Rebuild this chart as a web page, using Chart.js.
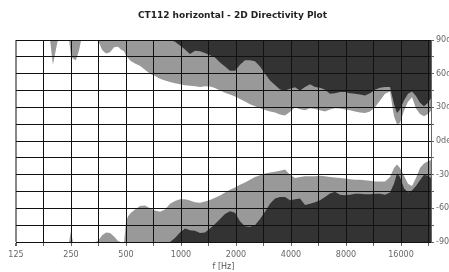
<!DOCTYPE html>
<html>
<head>
<meta charset="utf-8">
<script src="https://cdn.jsdelivr.net/npm/chart.js@4"></script>
<style>
html, body { margin: 0; padding: 0; background: #fff; }
</style>
</head>
<body>
<canvas id="myChart" width="449" height="272"></canvas>
<script>
// frequency points (Hz) the contour edges were read at
const freqs = [125, 135, 145, 157, 169, 182, 192, 199, 207, 212, 223, 235, 244, 250, 256, 266, 277, 284, 298, 318,
    338, 351, 370, 389, 409, 430, 452, 469, 488, 500, 513, 533, 560, 596, 635, 677, 721, 768, 817, 871,
    927, 987, 1052, 1120, 1193, 1271, 1353, 1441, 1535, 1635, 1741, 1854, 1975, 2103, 2240, 2386, 2541, 2707, 2883, 3070,
    3270, 3482, 3709, 3950, 4207, 4480, 4772, 5082, 5413, 5765, 6140, 6539, 6964, 7417, 7900, 8414, 8961, 9544, 10165, 10826,
    11530, 12280, 13079, 13929, 14648, 15213, 15800, 16614, 17473, 18379, 19327, 20327, 21378, 22484, 23350];

// white / grey edge, upper side (deg)
const upperInner = [90, 90, 90, 90, 90, 90, 90, 68, 82, 90, 90, 90, 90, 76, 73.5, 72, 81, 90, 90, 90,
    90, 90, 81, 78, 79, 83.5, 84, 81.5, 80, 76, 74, 71, 69, 67, 63.5, 60, 58, 55.5, 54, 52.5,
    51.5, 50.5, 49.6, 49.3, 48.7, 48.1, 48.7, 48.5, 47.2, 45.1, 42.9, 41.4, 39.6, 37.4, 35.3, 32.8, 31, 29.2, 27.7, 26.2,
    25.3, 23.7, 22.8, 26, 29.8, 28.3, 27.4, 29.2, 28.6, 27.4, 26.2, 28, 29.2, 29, 28, 27.4, 26.2, 25.3, 25, 26.2,
    30, 36, 42, 44, 22, 15, 16, 27, 35, 39, 29, 24, 22, 24, 27];

// grey / dark edge, upper side
const upperOuter = [90, 90, 90, 90, 90, 90, 90, 90, 90, 90, 90, 90, 90, 90, 90, 90, 90, 90, 90, 90,
    90, 90, 90, 90, 90, 90, 90, 90, 90, 90, 90, 90, 90, 90, 90, 90, 90, 90, 90, 90,
    88.5, 85, 81.5, 77.5, 80.5, 80, 78.5, 76.5, 74.5, 70, 66.3, 62.5, 62.5, 68, 72, 72, 71, 66.3, 60, 54,
    50, 46, 45, 46.5, 48, 45.1, 48.1, 50.5, 48.1, 47.4, 45.6, 42, 42.6, 43.6, 43.6, 42.6, 42, 41.4, 40.5, 42.6,
    45.6, 47.4, 48.1, 48.1, 33, 25, 28, 36, 42, 44, 40, 34, 31, 34, 38];

// white / grey edge, lower side
const lowerInner = [-90, -90, -90, -90, -90, -90, -90, -90, -90, -90, -90, -90, -90, -80, -90, -90, -90, -90, -90, -90,
    -90, -89, -84, -81.5, -82, -85, -89, -90, -90, -72, -67, -64, -61, -58, -57.5, -60, -62, -63, -61, -56,
    -53.5, -52, -52, -53, -54.5, -55, -54, -52.5, -50.5, -48.5, -46, -43.5, -41.5, -39, -37, -34.5, -32, -30.5, -29, -28,
    -27.5, -26.5, -25.5, -30, -33, -32, -31.5, -31.5, -31.5, -31, -31.5, -32, -32.5, -33, -33.5, -34, -34.5, -34.5, -35, -35.5,
    -36, -36, -36, -32, -24, -21, -24, -31, -38, -40, -33, -24, -20, -18, -17];

// grey / dark edge, lower side
const lowerOuter = [-90, -90, -90, -90, -90, -90, -90, -90, -90, -90, -90, -90, -90, -90, -90, -90, -90, -90, -90, -90,
    -90, -90, -90, -90, -90, -90, -90, -90, -90, -90, -90, -90, -90, -90, -90, -90, -90, -90, -90, -90,
    -86.5, -81.5, -78, -79.5, -80, -82, -81.5, -78, -74, -69.5, -65, -62.5, -64, -71.5, -76, -76.5, -75, -69.5, -63, -56,
    -51.3, -50, -50, -52.8, -52, -51.3, -57, -56, -54.5, -52.8, -50, -46.8, -45.2, -48, -48.3, -48, -47, -47, -47.5, -47.5,
    -47, -47, -48, -46, -38, -29, -32, -42, -46, -44, -40, -35, -30, -31, -33];

const xTicks = [125, 177, 250, 354, 500, 707, 1000, 1414, 2000, 2828, 4000, 5657, 8000, 11314, 16000, 22627];
const xLabels = [125, 250, 500, 1000, 2000, 4000, 8000, 16000];
const yTicks = [-90, -75, -60, -45, -30, -15, 0, 15, 30, 45, 60, 75, 90];
const yLabels = [-90, -60, -30, 0, 30, 60, 90];

const pts = (vals) => freqs.map((f, i) => ({ x: f, y: vals[i] }));
const font = "'DejaVu Sans', sans-serif";

// everything outside the grey band is dark
const darkArea = {
    id: "darkArea",
    beforeDatasetsDraw(chart) {
        const { ctx, chartArea: a } = chart;
        ctx.save();
        ctx.fillStyle = "#333333";
        ctx.fillRect(a.left, a.top, a.right - a.left, a.bottom - a.top);
        ctx.restore();
    },
};

const edge = { borderWidth: 0, borderColor: "rgba(0,0,0,0)", pointRadius: 0, tension: 0 };

const ctx = document.getElementById("myChart").getContext("2d");
const myChart = new Chart(ctx, {
    type: "line",
    data: {
        datasets: [
            { ...edge, data: pts(upperInner), fill: "+1", backgroundColor: "#ffffff" },
            { ...edge, data: pts(lowerInner), fill: false },
            { ...edge, data: pts(upperOuter), fill: "+1", backgroundColor: "#999999" },
            { ...edge, data: pts(lowerOuter), fill: false },
        ],
    },
    options: {
        responsive: false,
        animation: false,
        layout: { padding: { left: 16, right: 0, top: 0, bottom: 0 } },
        plugins: {
            legend: { display: false },
            tooltip: { enabled: false },
            title: {
                display: true,
                text: "CT112 horizontal - 2D Directivity Plot",
                color: "#222",
                font: { size: 9, weight: "bold", family: font },
                padding: { top: 10.5, bottom: 18.7 },
            },
        },
        scales: {
            x: {
                type: "logarithmic",
                min: 125,
                max: 23350,
                afterBuildTicks: (s) => { s.ticks = xTicks.map((v) => ({ value: v })); },
                afterFit: (s) => { s.height = 30; },
                ticks: {
                    autoSkip: false,
                    maxRotation: 0,
                    padding: 4,
                    color: "#666",
                    font: { size: 8, family: font },
                    callback: (v) => (xLabels.includes(v) ? String(v) : ""),
                },
                grid: {
                    z: 1,
                    color: (c) => (c.index === 0 ? "#888" : "#111"),
                    lineWidth: (c) => (c.index === 0 ? 2 : 1),
                    tickLength: 4,
                    tickColor: "#666",
                },
                border: { z: 1, color: "#555" },
                title: {
                    display: true,
                    text: "f [Hz]",
                    color: "#555",
                    font: { size: 8, family: font },
                    padding: 0,
                },
            },
            y: {
                position: "right",
                min: -90,
                max: 90,
                afterBuildTicks: (s) => { s.ticks = yTicks.map((v) => ({ value: v })); },
                afterFit: (s) => { s.width = 18; },
                ticks: {
                    autoSkip: false,
                    padding: 2,
                    color: "#666",
                    font: { size: 8, family: font },
                    callback: (v) => (yLabels.includes(v) ? v + "deg" : ""),
                },
                grid: { z: 1, color: "#111", lineWidth: 1, tickLength: 3, tickColor: "#666" },
                border: { z: 1, color: "#666" },
            },
        },
    },
    plugins: [darkArea],
});
</script>
</body>
</html>
